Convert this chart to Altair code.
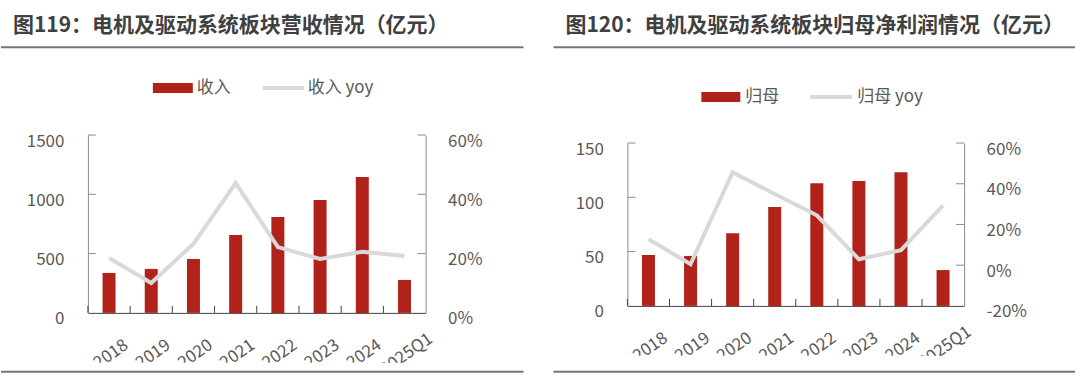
import altair as alt
import pandas as pd

cats = ['2018', '2019', '2020', '2021', '2022', '2023', '2024', '2025Q1']
rev = [337, 371, 455, 657, 809, 952, 1146, 278]
rev_yoy = [0.185, 0.101, 0.233, 0.438, 0.222, 0.182, 0.206, 0.192]
np_vals = [46.9, 46, 67, 91, 113, 115, 123, 33]
np_yoy = [0.128, 0.005, 0.456, 0.35, 0.245, 0.029, 0.074, 0.294]

left_title = '图119：电机及驱动系统板块营收情况（亿元）'
right_title = '图120：电机及驱动系统板块归母净利润情况（亿元）'

FONT = 'Noto Sans CJK SC'
RED = '#B0221A'
GREY_LINE = '#D9D9D9'
TXT = '#595959'
PT = 135  # common plot-area top (absolute)


def one(v):
    return pd.DataFrame({'a': [v]})


def panel(bars, yoy, bar_name, line_name, bar_dom, bar_ticks, yoy_dom, yoy_ticks,
          title, W, top, bottom, pl, px0, px1, title_x, leg_y, leg, clip_y, sep_x0, sep_x1):
    pt = PT
    H = bottom - pt
    rng = [bottom - pt, top - pt]
    df = pd.DataFrame({'cat': cats, 'val': bars, 'yoy': yoy})
    xs = alt.Scale(paddingInner=0, paddingOuter=0)
    xaxis = alt.Axis(labelAngle=-35, labelAlign='center', labelBaseline='middle',
                     labelPadding=41, labelOffset=2, ticks=False, domainColor='#404040',
                     labelColor=TXT, labelFontSize=17, labelFont=FONT, grid=False,
                     labelOverlap=False, title=None)
    bscale = alt.Scale(domain=bar_dom, nice=False, zero=False, range=rng)
    lscale = alt.Scale(domain=yoy_dom, nice=False, zero=False, range=rng)

    bg = alt.Chart(one(0)).mark_rect(color='white', opacity=0).encode(
        x=alt.value(px0 - pl), x2=alt.value(px1 - pl),
        y=alt.value(-pt), y2=alt.value(377 - pt))

    bar = alt.Chart(df).mark_bar(color=RED, size=13).encode(
        x=alt.X('cat:N', sort=cats, scale=xs, axis=xaxis),
        y=alt.Y('val:Q', scale=bscale, title=None,
                axis=alt.Axis(orient='left', values=bar_ticks, ticks=False, grid=False,
                              format='d', domainColor='#8C8C8C', labelColor=TXT,
                              labelFontSize=17, labelFont=FONT, labelPadding=24,
                              labelOffset=6)))

    line = alt.Chart(df).mark_line(color=GREY_LINE, strokeWidth=4).encode(
        x=alt.X('cat:N', sort=cats, scale=xs, axis=xaxis),
        y=alt.Y('yoy:Q', scale=lscale, title=None,
                axis=alt.Axis(orient='right', values=yoy_ticks,
                              labelExpr="round(datum.value * 100) + '%'", ticks=False,
                              grid=False, domainColor='#8C8C8C', labelColor=TXT,
                              labelFontSize=17, labelFont=FONT, labelPadding=22,
                              labelOffset=6)))

    xt = alt.Chart(df).mark_rule(color='#404040', strokeWidth=1).encode(
        x=alt.X('cat:N', sort=cats, scale=xs, axis=xaxis, bandPosition=0),
        y=alt.value(H - 7), y2=alt.value(H))

    lt = alt.Chart(pd.DataFrame({'v': bar_ticks[1:]})).mark_rule(color='#8C8C8C').encode(
        y=alt.Y('v:Q', scale=bscale, axis=None), x=alt.value(0), x2=alt.value(8))
    rt = alt.Chart(pd.DataFrame({'v': yoy_ticks[1:]})).mark_rule(color='#8C8C8C').encode(
        y=alt.Y('v:Q', scale=lscale, axis=None), x=alt.value(W - 8), x2=alt.value(W))

    cover = alt.Chart(one(0)).mark_rect(color='white').encode(
        x=alt.value(px0 - pl), x2=alt.value(px1 - pl),
        y=alt.value(clip_y - pt), y2=alt.value(377 - pt))

    sep_top = alt.Chart(one(0)).mark_rule(color='#767676', strokeWidth=2).encode(
        x=alt.value(sep_x0 - pl), x2=alt.value(sep_x1 - pl), y=alt.value(47 - pt))
    sep_bot = alt.Chart(one(0)).mark_rule(color='#767676', strokeWidth=2).encode(
        x=alt.value(sep_x0 - pl), x2=alt.value(sep_x1 - pl), y=alt.value(372 - pt))

    ttl = alt.Chart(pd.DataFrame({'t': [title]})).mark_text(
        align='left', baseline='middle', fontSize=21, fontWeight='bold', font=FONT,
        color='#404040').encode(text='t:N', x=alt.value(title_x - pl), y=alt.value(26 - pt))

    r0, r1, t1, l0, l1, t2 = leg
    ly = leg_y - pt
    leg_rect = alt.Chart(one(0)).mark_rect(color=RED).encode(
        x=alt.value(r0 - pl), x2=alt.value(r1 - pl), y=alt.value(ly - 5), y2=alt.value(ly + 5))
    leg_line = alt.Chart(one(0)).mark_rule(color=GREY_LINE, strokeWidth=4).encode(
        x=alt.value(l0 - pl), x2=alt.value(l1 - pl), y=alt.value(ly))
    leg_t = alt.Chart(pd.DataFrame({'t': [bar_name, line_name], 'x': [t1 - pl, t2 - pl]})).mark_text(
        align='left', baseline='middle', fontSize=17, font=FONT, color=TXT).encode(
        text='t:N', x=alt.X('x:Q', scale=None), y=alt.value(ly))

    return alt.layer(bg, bar, line, xt, lt, rt, cover, sep_top, sep_bot, ttl,
                     leg_rect, leg_line, leg_t).resolve_scale(y='independent').properties(
        width=W, height=H)


left = panel(rev, rev_yoy, '收入', '收入 yoy', [0, 1500], [0, 500, 1000, 1500],
             [0, 0.6], [0, 0.2, 0.4, 0.6], left_title,
             W=338, top=135, bottom=313, pl=87, px0=0, px1=540, title_x=12, leg_y=88,
             leg=(152, 192, 196, 262, 303, 307), clip_y=363, sep_x0=0, sep_x1=523)

right = panel(np_vals, np_yoy, '归母', '归母 yoy', [0, 150], [0, 50, 100, 150],
              [-0.2, 0.6], [-0.2, 0, 0.2, 0.4, 0.6], right_title,
              W=337, top=143, bottom=306, pl=627, px0=540, px1=1080, title_x=565, leg_y=97,
              leg=(701, 740, 745, 810, 852, 857), clip_y=356, sep_x0=553, sep_x1=1075)

chart = alt.hconcat(left, right, spacing=0).configure(padding=0).configure_view(stroke=None)

chart.save("out.html", embed_options={"renderer": "svg", "actions": False})
